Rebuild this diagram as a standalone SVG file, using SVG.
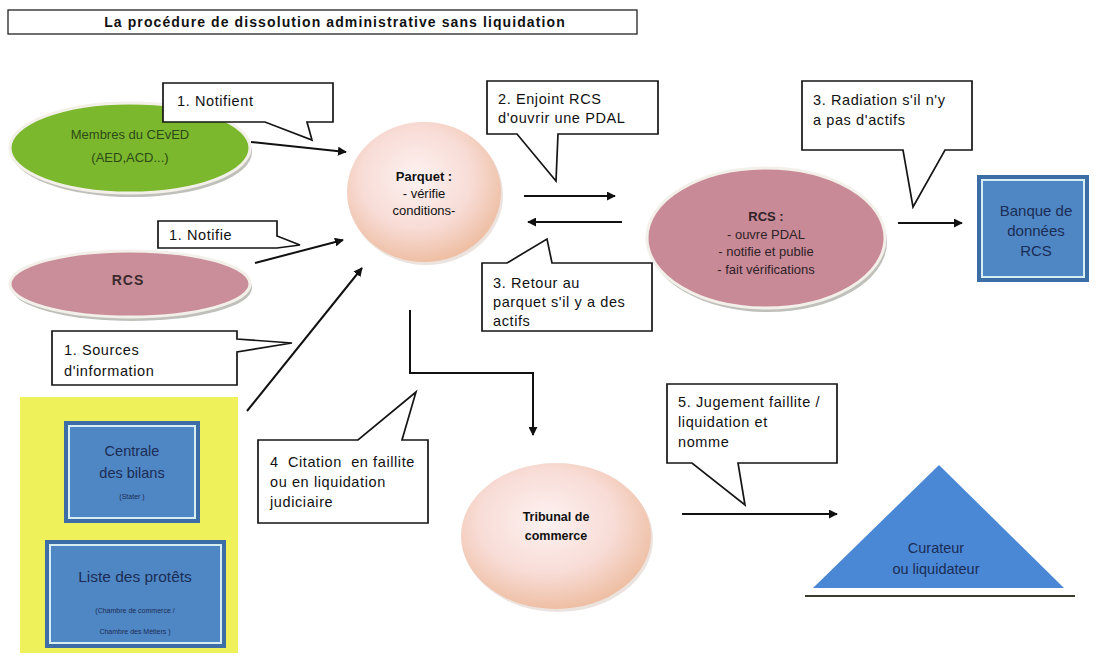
<svg xmlns="http://www.w3.org/2000/svg" width="1103" height="656" viewBox="0 0 1103 656">
  <defs>
    <style>
      .t { font-family: "Liberation Sans", Arial, sans-serif; fill: #111; white-space: pre; }
      .call { fill: #fff; stroke: #151515; stroke-width: 1.7; stroke-linejoin: miter; }
      .ct { font-size: 14.5px; letter-spacing: 0.6px; }
      .conn { fill: none; stroke: #111; stroke-width: 2; }
      .rim { stroke: #f3efe9; stroke-width: 3; }
      .shadow { fill: #8c8c84; opacity: 0.55; }
      .blueOuter { fill: #3d6da6; }
      .blueLine { fill: none; stroke: #d6eef2; stroke-width: 2; }
      .blueFill { fill: #4f86c4; }
      .bt { fill: #1b2d55; text-anchor: middle; }
    </style>
    <radialGradient id="peach" cx="0.45" cy="0.4" r="0.6">
      <stop offset="0" stop-color="#fdf2f2"/>
      <stop offset="0.6" stop-color="#f8dcd6"/>
      <stop offset="1" stop-color="#eebfa4"/>
    </radialGradient>
    <marker id="arrow" viewBox="0 0 10 10" refX="9" refY="5" markerWidth="4.5" markerHeight="4.5" orient="auto" markerUnits="strokeWidth">
      <path d="M0,0 L10,5 L0,10 Z" fill="#111"/>
    </marker>
  </defs>

  <rect width="1103" height="656" fill="#ffffff"/>

  <!-- title -->
  <g id="title">
    <rect x="8" y="10" width="629" height="24" fill="#fff" stroke="#222" stroke-width="1.3"/>
    <text class="t" x="335" y="27" font-size="14" font-weight="bold" letter-spacing="1.1" text-anchor="middle">La procédure de dissolution administrative sans liquidation</text>
  </g>

  <!-- connectors -->
  <g id="connectors">
    <line class="conn" x1="251" y1="142" x2="346" y2="152" marker-end="url(#arrow)"/>
    <line class="conn" x1="255" y1="263" x2="343" y2="240" marker-end="url(#arrow)"/>
    <line class="conn" x1="247" y1="411" x2="362" y2="268" marker-end="url(#arrow)"/>
    <line class="conn" x1="524" y1="196" x2="615" y2="196" marker-end="url(#arrow)"/>
    <line class="conn" x1="622" y1="222" x2="528" y2="222" marker-end="url(#arrow)"/>
    <line class="conn" x1="898" y1="223" x2="962" y2="223" marker-end="url(#arrow)"/>
    <polyline class="conn" points="410,310 410,373 533,373 533,435" marker-end="url(#arrow)"/>
    <line class="conn" x1="682" y1="514" x2="837" y2="514" marker-end="url(#arrow)"/>
  </g>

  <!-- sources -->
  <g id="membres">
    <ellipse class="shadow" cx="132" cy="152" rx="120" ry="45"/>
    <ellipse cx="130" cy="148" rx="120" ry="45" fill="#7cb82e" class="rim"/>
    <text class="t" x="130" y="139" font-size="13" text-anchor="middle" style="fill:#2c4a16">Membres du CEvED</text>
    <text class="t" x="130" y="162" font-size="13" text-anchor="middle" style="fill:#2c4a16">(AED,ACD...)</text>
  </g>

  <g id="rcs-source">
    <ellipse class="shadow" cx="132" cy="288" rx="120" ry="33"/>
    <ellipse cx="130" cy="284" rx="120" ry="33" fill="#c98e9a" class="rim"/>
    <text class="t" x="128" y="285" font-size="14" font-weight="bold" letter-spacing="1" text-anchor="middle" style="fill:#3a2a2d">RCS</text>
  </g>

  <g id="sources-info">
    <rect x="20" y="397" width="218" height="256" fill="#eef15a"/>
    <g id="centrale">
      <rect class="blueOuter" x="64" y="421" width="136" height="102"/>
      <rect class="blueFill" x="68" y="425" width="128" height="94"/>
      <rect class="blueLine" x="69" y="426" width="126" height="92"/>
      <text class="t bt" x="132" y="456" font-size="14.5">Centrale</text>
      <text class="t bt" x="132" y="478" font-size="14.5">des bilans</text>
      <text class="t bt" x="132" y="499" font-size="7">(Stater )</text>
    </g>
    <g id="liste">
      <rect class="blueOuter" x="45" y="540" width="181" height="108"/>
      <rect class="blueFill" x="49" y="544" width="173" height="100"/>
      <rect class="blueLine" x="50" y="545" width="171" height="98"/>
      <text class="t bt" x="135" y="582" font-size="15.5">Liste des protêts</text>
      <text class="t bt" x="135" y="613" font-size="7">(Chambre de commerce /</text>
      <text class="t bt" x="135" y="634" font-size="7">Chambre des Métiers )</text>
    </g>
  </g>

  <!-- parquet -->
  <g id="parquet">
    <ellipse cx="426" cy="195" rx="77" ry="70" fill="#d9c8c0" opacity="0.5"/>
    <ellipse cx="424" cy="192" rx="77" ry="70" fill="url(#peach)"/>
    <text class="t" x="424" y="181" font-size="13" font-weight="bold" text-anchor="middle">Parquet :</text>
    <text class="t" x="424" y="198" font-size="13" text-anchor="middle">- vérifie</text>
    <text class="t" x="424" y="215" font-size="13" text-anchor="middle">conditions-</text>
  </g>

  <!-- RCS (opens PDAL) -->
  <g id="rcs">
    <ellipse class="shadow" cx="768" cy="242" rx="119" ry="70"/>
    <ellipse cx="766" cy="238" rx="119" ry="70" fill="#c98a98" class="rim"/>
    <text class="t" x="766" y="221" font-size="13" font-weight="bold" text-anchor="middle" style="fill:#2e2226">RCS :</text>
    <text class="t" x="766" y="239" font-size="13" text-anchor="middle" style="fill:#2e2226">- ouvre PDAL</text>
    <text class="t" x="766" y="256" font-size="13" text-anchor="middle" style="fill:#2e2226">- notifie et publie</text>
    <text class="t" x="766" y="274" font-size="13" text-anchor="middle" style="fill:#2e2226">- fait vérifications</text>
  </g>

  <g id="banque">
    <rect class="blueOuter" x="977" y="175" width="112" height="107"/>
    <rect class="blueFill" x="981" y="179" width="104" height="99"/>
    <rect class="blueLine" x="982" y="180" width="102" height="97"/>
    <text class="t bt" x="1036" y="216" font-size="15">Banque de</text>
    <text class="t bt" x="1036" y="236" font-size="15">données</text>
    <text class="t bt" x="1036" y="256" font-size="15">RCS</text>
  </g>

  <g id="tribunal">
    <ellipse cx="558" cy="539" rx="95" ry="73" fill="#d9c8c0" opacity="0.5"/>
    <ellipse cx="556" cy="536" rx="95" ry="73" fill="url(#peach)"/>
    <text class="t" x="556" y="521" font-size="12.5" font-weight="bold" text-anchor="middle">Tribunal de</text>
    <text class="t" x="556" y="540" font-size="12.5" font-weight="bold" text-anchor="middle">commerce</text>
  </g>

  <g id="curateur">
    <polygon points="813,588 939,465 1064,588" fill="#4a88d6"/>
    <line x1="805" y1="596" x2="1075" y2="596" stroke="#3b3b2e" stroke-width="2"/>
    <text class="t bt" x="936" y="553" font-size="14.5">Curateur</text>
    <text class="t bt" x="936" y="574" font-size="14.5">ou liquidateur</text>
  </g>

  <!-- callouts -->
  <g id="callout-notifient">
    <path class="call" d="M163,83 H333 V122 H307 L312,140 L265,122 H163 Z"/>
    <text class="t ct" x="177" y="106">1. Notifient</text>
  </g>
  <g id="callout-notifie">
    <path class="call" d="M158,221 H277 V236 L300,245 L277,248 H158 Z"/>
    <text class="t ct" x="169" y="240">1. Notifie</text>
  </g>
  <g id="callout-sources">
    <path class="call" d="M52,331 H237 V339 L292,343 L237,352 V385 H52 Z"/>
    <text class="t ct" x="64" y="355">1. Sources</text>
    <text class="t ct" x="64" y="376">d'information</text>
  </g>
  <g id="callout-enjoint">
    <path class="call" d="M487,81 H658 V134 H558 L556,181 L517,134 H487 Z"/>
    <text class="t ct" x="498" y="104">2. Enjoint RCS</text>
    <text class="t ct" x="498" y="123">d'ouvrir une PDAL</text>
  </g>
  <g id="callout-retour">
    <path class="call" d="M482,263 H507 L547,239 L552,263 H652 V331 H482 Z"/>
    <text class="t ct" x="493" y="288">3. Retour au</text>
    <text class="t ct" x="493" y="307">parquet s'il y a des</text>
    <text class="t ct" x="493" y="326">actifs</text>
  </g>
  <g id="callout-radiation">
    <path class="call" d="M802,81 H972 V150 H945 L913,207 L903,150 H802 Z"/>
    <text class="t ct" x="813" y="105">3. Radiation s'il n'y</text>
    <text class="t ct" x="813" y="125">a pas d'actifs</text>
  </g>
  <g id="callout-citation">
    <path class="call" d="M258,440 H358 L416,392 L402,440 H428 V523 H258 Z"/>
    <text class="t ct" x="270" y="467">4  Citation  en faillite</text>
    <text class="t ct" x="270" y="487">ou en liquidation</text>
    <text class="t ct" x="270" y="507">judiciaire</text>
  </g>
  <g id="callout-jugement">
    <path class="call" d="M667,384 H837 V463 H738 L745,505 L692,463 H667 Z"/>
    <text class="t ct" x="678" y="407">5. Jugement faillite /</text>
    <text class="t ct" x="678" y="427">liquidation et</text>
    <text class="t ct" x="678" y="447">nomme</text>
  </g>
</svg>
